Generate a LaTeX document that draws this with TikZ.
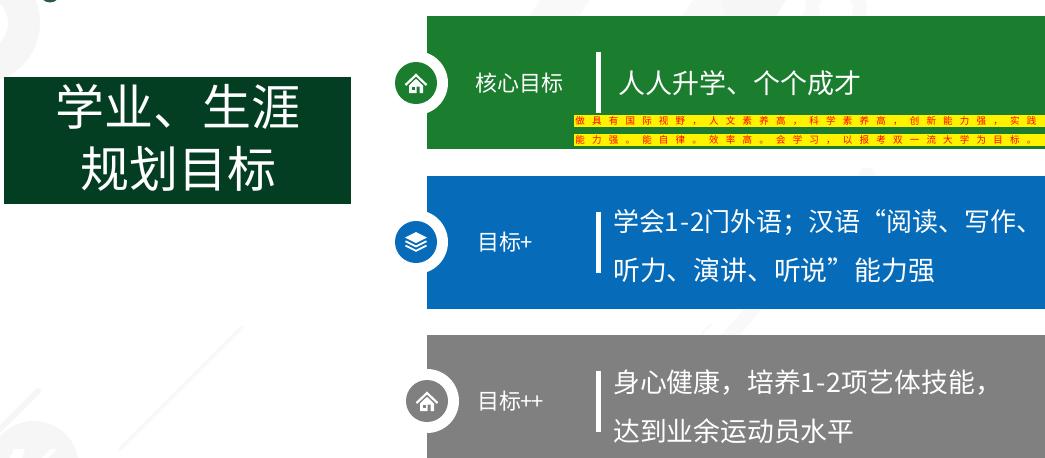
\documentclass[tikz,border=0pt]{standalone}
\usepackage{fontspec}
\setmainfont{Noto Sans CJK SC}
\newfontfamily\cjk{Noto Sans CJK SC}
\newfontfamily\cjkspaced[LetterSpace=76]{Noto Sans CJK SC}
\definecolor{cgreen}{HTML}{1B7D2E}
\definecolor{cblue}{HTML}{066CB9}
\definecolor{cgray}{HTML}{808080}
\definecolor{cdark}{HTML}{033D22}
\definecolor{wmark}{HTML}{F6F6F6}
\definecolor{wmarkb}{HTML}{F9F9F9}
\newcommand{\hw}[1]{\makebox[0.5em][c]{#1}}
\tikzset{
  panel/.style={fill=#1,draw=none,anchor=north west,inner sep=0pt,minimum width=618pt,outer sep=0pt},
  ringo/.style={circle,fill=white,minimum size=64pt,inner sep=0pt},
  disc/.style={circle,fill=#1,minimum size=42pt,inner sep=0pt},
  bartick/.style={fill=white,anchor=north west,inner sep=0pt,minimum width=5pt,minimum height=61pt},
  labeltext/.style={text=white,inner sep=0pt,anchor=west,font=\cjk\fontsize{22}{22}\selectfont},
  maintext/.style={text=white,inner sep=0pt,anchor=west,font=\cjk\fontsize{26.8}{26.8}\selectfont},
  titletext/.style={text=white,inner sep=0pt,font=\cjk\fontsize{49}{49}\selectfont},
  strip/.style={fill=yellow,text=red,anchor=west,inner sep=0pt,minimum width=471pt,minimum height=12pt,text width=471pt,font=\cjkspaced\fontsize{9.5}{9.5}\selectfont},
}
\newcommand{\houseicon}[3]{%
  \begin{scope}[shift={(#1,#2)}]
    \draw[white,line width=2.2pt,line join=miter] (-10.5,2) -- (0,-8) -- (10.5,2);
    \fill[white] (-7,2.5) -- (0,-4.2) -- (7,2.5) -- (7,10) -- (3.5,10) -- (3.5,3.5) -- (0.5,3.5) -- (0.5,10) -- (-7,10) -- cycle;
    \fill[#3] (-4.2,3.5) rectangle (-1,6.8);
  \end{scope}}
\newcommand{\layersicon}[2]{%
  \begin{scope}[shift={(#1,#2)}]
    \fill[white] (-11,-4.5) -- (0,-10) -- (11,-4.5) -- (0,1) -- cycle;
    \draw[white,line width=1.8pt] (-10.5,-0.8) -- (0,4.4) -- (10.5,-0.8);
    \draw[white,line width=1.8pt] (-10.5,3.6) -- (0,8.8) -- (10.5,3.6);
  \end{scope}}
\begin{document}
\begin{tikzpicture}[x=1pt,y=-1pt]
\useasboundingbox (0,0) rectangle (1045,458);
% faint background marks
\begin{scope}
\clip (0,0) rectangle (1045,458);
\fill[wmark,even odd rule] (-20,23) circle[radius=60] (-20,23) circle[radius=28];
\fill[cdark!85] (50,-8) circle[radius=10.5];
\draw[wmark,line width=6pt,line cap=round] (38,391) -- (-5,434);
\draw[wmarkb,line width=4pt,line cap=round] (242,327) -- (120,449);
\fill[wmark] (34,466) circle[radius=45];
\fill[white] (10,458) -- (14,449) -- (25,449) -- (22,458) -- cycle;
\fill[white] (42,458) -- (50,449) -- (57,449) -- (48,458) -- cycle;
\fill[wmarkb] (540,0) -- (590,0) -- (579,16) -- (530,16) -- cycle;
\fill[wmarkb] (693,0) -- (720,0) -- (726,16) -- (682,16) -- cycle;
\fill[wmark] (720,0) -- (786,0) -- (776,16) -- (726,16) -- cycle;
\fill[wmarkb] (813,0) -- (820,0) -- (818,16) -- (802,16) -- cycle;
\fill[wmarkb,even odd rule] (836,10) circle[radius=17] (836,10) circle[radius=31];
\fill[wmarkb] (867,176) circle[radius=8.5];
\fill[wmarkb] (744,309) -- (762,309) -- (740,335) -- (721,335) -- cycle;
\fill[wmarkb] (710,323) -- (712,325) -- (702,335) -- (700,335) -- cycle;
\end{scope}
% title
\node[fill=cdark,anchor=north west,inner sep=0pt,minimum width=347pt,minimum height=127pt] (titlebox) at (4,77) {};
\node[titletext] (title1) at (178.5,107) {学业、生涯};
\node[titletext] (title2) at (178.5,168.5) {规划目标};
% panels
\node[panel=cgreen,minimum height=133pt] (p1) at (427,16) {};
\node[panel=cblue,minimum height=133pt] (p2) at (427,176) {};
\node[panel=cgray,minimum height=123pt] (p3) at (427,335) {};
% rings and discs
\node[ringo] (r1) at (416,83) {};
\node[disc=cgreen] (d1) at (416,83) {};
\houseicon{416}{83}{cgreen}
\node[ringo] (r2) at (416,242) {};
\node[disc=cblue] (d2) at (416,242) {};
\layersicon{416}{242}
\node[ringo] (r3) at (427,401) {};
\node[disc=cgray] (d3) at (427,401) {};
\houseicon{427}{401}{cgray}
% small labels
\node[labeltext] (l1) at (475,83) {核心目标};
\node[labeltext] (l2) at (477,242) {目标\hw{+}};
\node[labeltext] (l3) at (477,401) {目标\hw{+}\hw{+}};
% white bars
\node[bartick] (b1) at (596,52) {};
\node[bartick] (b2) at (596,212) {};
\node[bartick] (b3) at (596,371) {};
% main texts
\node[text=white,inner sep=0pt,anchor=west,font=\cjk\fontsize{27}{27}\selectfont] (t1) at (618,83) {人人升学、个个成才};
\node[maintext,font=\cjk\fontsize{26}{26}\selectfont] (t2a) at (613,223) {学会\hw{1}\hw{-}\hw{2}门外语；汉语“阅读、写作、};
\node[maintext] (t2b) at (613,270) {听力、演讲、听说”能力强};
\node[maintext] (t3a) at (613,383) {身心健康，培养\hw{1}\hw{-}\hw{2}项艺体技能，};
\node[maintext] (t3b) at (613,431) {达到业余运动员水平};
% yellow strips
\node[strip] (s1) at (574,121) {\hspace*{1.2pt}做具有国际视野，人文素养高，科学素养高，创新能力强，实践};
\node[strip] (s2) at (574,139.5) {\hspace*{1.2pt}能力强。能自律。效率高。会学习，以报考双一流大学为目标。};
\end{tikzpicture}
\end{document}
